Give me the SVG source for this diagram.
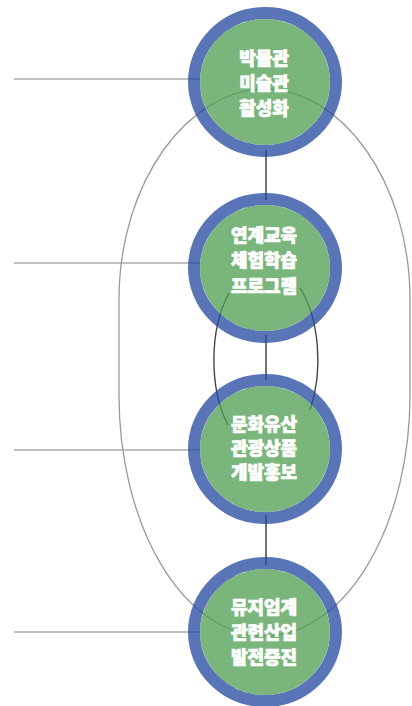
<svg xmlns="http://www.w3.org/2000/svg" width="412" height="706" viewBox="0 0 412 706">
<style>
.ring{fill:none;stroke:#2549a0;stroke-opacity:0.76;stroke-width:12}
.core{fill:#509f52;fill-opacity:0.76}
.lbl{font-family:"Noto Sans CJK KR","Noto Sans",sans-serif;font-weight:900;font-size:18px;fill:#ffffff;stroke:#ffffff;stroke-width:0.7;text-anchor:middle;dominant-baseline:central}
.side{stroke:#aaaaaa;stroke-width:1.5;fill:none}
.big{stroke:#9a9a9a;stroke-width:1.3;fill:none}
.inner{stroke:#454545;stroke-width:1.4;fill:none}
.vert{stroke:#444444;stroke-width:1.5;fill:none}
</style>
<rect width="412" height="706" fill="#ffffff"/>
<g id="connectors">
<line class="side" x1="14" y1="79" x2="200" y2="79"/>
<line class="side" x1="14" y1="263" x2="200" y2="263"/>
<line class="side" x1="14" y1="450" x2="200" y2="450"/>
<line class="side" x1="14" y1="632" x2="200" y2="632"/>
<path class="big" d="M119,300 C119,180 190,89 265,89 C340,89 410,180 410,300 L410,395 A145.5,241 0 0,1 119,395 Z"/>
<path class="inner" d="M229,293 A52,95 0 0,0 228,425"/>
<path class="inner" d="M300,288 A52,95 0 0,1 310,410"/>
<line class="vert" x1="266" y1="150" x2="266" y2="200"/>
<line class="vert" x1="266" y1="335" x2="266" y2="380"/>
<line class="vert" x1="266" y1="515" x2="266" y2="565"/>
</g>
<g id="node1">
<ellipse class="ring" cx="265" cy="82" rx="71" ry="69"/>
<ellipse class="core" cx="265" cy="82" rx="65" ry="63"/>
<text class="lbl" x="264" y="57">박물관</text>
<text class="lbl" x="264" y="82">미술관</text>
<text class="lbl" x="264" y="107">활성화</text>
</g>
<g id="node2">
<ellipse class="ring" cx="265" cy="268" rx="71" ry="69"/>
<ellipse class="core" cx="265" cy="268" rx="65" ry="63"/>
<text class="lbl" x="264" y="234">연계교육</text>
<text class="lbl" x="264" y="259">체험학습</text>
<text class="lbl" x="264" y="285">프로그램</text>
</g>
<g id="node3">
<ellipse class="ring" cx="265" cy="449" rx="71" ry="69"/>
<ellipse class="core" cx="265" cy="449" rx="65" ry="63"/>
<text class="lbl" x="264" y="423">문화유산</text>
<text class="lbl" x="264" y="447">관광상품</text>
<text class="lbl" x="264" y="471">개발홍보</text>
</g>
<g id="node4">
<ellipse class="ring" cx="265" cy="632" rx="71" ry="69"/>
<ellipse class="core" cx="265" cy="632" rx="65" ry="63"/>
<text class="lbl" x="264" y="606">뮤지엄계</text>
<text class="lbl" x="264" y="631">관련산업</text>
<text class="lbl" x="264" y="656">발전증진</text>
</g>
</svg>
